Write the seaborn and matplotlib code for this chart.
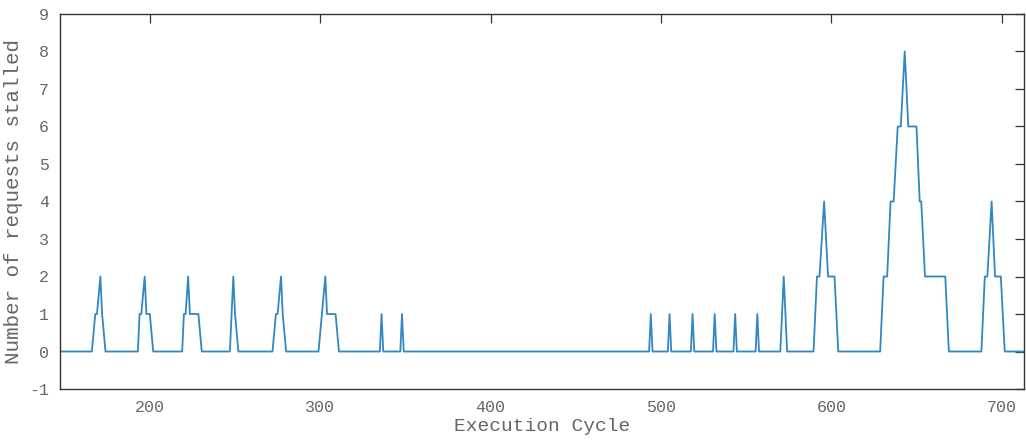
import numpy as np
import pandas as pd
import matplotlib
matplotlib.use('Agg')
import matplotlib.pyplot as plt
import seaborn as sns

# Stalled request count per execution cycle
cycle = [140,
         166, 168, 169, 171, 172, 174,
         193, 194, 195, 197, 198, 200, 202,
         219, 220, 221, 222.5, 223.5, 228.5, 230.5,
         247, 249, 250, 252,
         272, 274, 275, 277, 278, 280,
         299, 301, 303, 304, 309, 311,
         335, 336, 337,
         347, 348, 349,
         493, 494, 495,
         504, 505, 506,
         517.5, 518.5, 519.5,
         530.5, 531.5, 532.5,
         542.5, 543.5, 544.5,
         555.5, 556.5, 557.5,
         570, 572, 574,
         589.5, 591.5, 593, 595.7, 598, 601.8, 604,
         628.6, 630.6, 632.7, 634.7, 636.5, 638.9, 640.7, 643, 645.1, 649.9, 651.8, 652.7, 654.9, 666.8, 668.9,
         688, 690, 691.5, 694, 696, 699.4, 701.7,
         720]
stalled = [0,
           0, 1, 1, 2, 1, 0,
           0, 1, 1, 2, 1, 1, 0,
           0, 1, 1, 2, 1, 1, 0,
           0, 2, 1, 0,
           0, 1, 1, 2, 1, 0,
           0, 1, 2, 1, 1, 0,
           0, 1, 0,
           0, 1, 0,
           0, 1, 0,
           0, 1, 0,
           0, 1, 0,
           0, 1, 0,
           0, 1, 0,
           0, 1, 0,
           0, 2, 0,
           0, 2, 2, 4, 2, 2, 0,
           0, 2, 2, 4, 4, 6, 6, 8, 6, 6, 4, 4, 2, 2, 0,
           0, 2, 2, 4, 2, 2, 0,
           0]

x_ticks = [200, 300, 400, 500, 600, 700]
y_ticks = list(range(-1, 10))

df = pd.DataFrame({'cycle': cycle, 'stalled': stalled})

sns.set_style('white')
plt.rcParams['font.family'] = ['Liberation Mono', 'DejaVu Sans Mono']
plt.rcParams['axes.unicode_minus'] = False

fig = plt.figure(figsize=(10.26, 4.40), dpi=100)
ax = fig.add_axes([60 / 1026, 51 / 440, 964 / 1026, 375 / 440])

sns.lineplot(data=df, x='cycle', y='stalled', ax=ax, estimator=None, sort=False,
             color='#3087c2', linewidth=1.3)

ax.set_xlim(147.3, 713)
ax.set_ylim(-1, 9)
ax.set_xticks(x_ticks)
ax.set_yticks(y_ticks)
ax.tick_params(direction='in', length=6.5, width=0.9, top=True, right=True,
               colors='#333333', labelcolor='#666666', labelsize=12, pad=8)
for s in ax.spines.values():
    s.set_visible(True)
    s.set_color('#333333')
    s.set_linewidth(1.0)

ax.set_xlabel('Execution Cycle', fontsize=14, color='#666666', labelpad=2)
ax.set_ylabel('Number of requests stalled', fontsize=15, color='#666666', labelpad=4)

fig.savefig('out.png', dpi=100)
plt.close(fig)
